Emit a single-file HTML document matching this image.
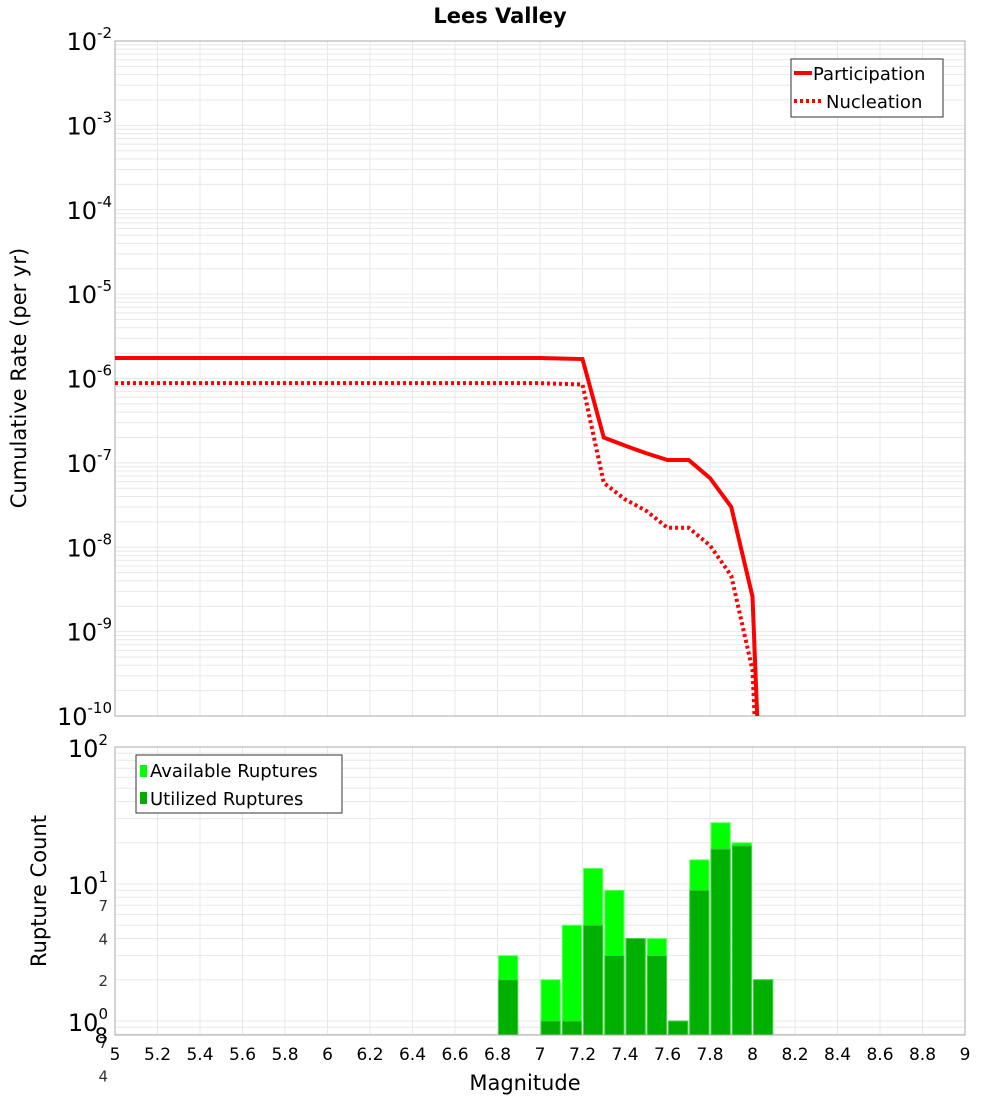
<!DOCTYPE html>
<html><head><meta charset="utf-8"><style>
body{margin:0;background:#fff;}
svg{display:block;font-family:"DejaVu Sans","Liberation Sans",sans-serif;}
</style></head><body>
<svg id="chart" width="1000" height="1100" viewBox="0 0 1000 1100" xmlns="http://www.w3.org/2000/svg">
<text x="500" y="23" text-anchor="middle" font-size="21" font-weight="bold">Lees Valley</text>
<g id="topG"></g><g id="botG"></g>
<text transform="translate(26,378) rotate(-90)" text-anchor="middle" font-size="21">Cumulative Rate (per yr)</text>
<text transform="translate(46,891) rotate(-90)" text-anchor="middle" font-size="21">Rupture Count</text>
<text x="525" y="1090" text-anchor="middle" font-size="21">Magnitude</text>
</svg>
<script>
const partMags=[5.0,7.0,7.2,7.3,7.4,7.5,7.6,7.7,7.8,7.9,8.0,8.1];
const partVals=[1.75e-6,1.75e-6,1.7e-6,2.0e-7,1.6e-7,1.3e-7,1.08e-7,1.08e-7,6.6e-8,3.0e-8,2.6e-9,1e-15];
const nuclMags=[5.0,7.0,7.2,7.3,7.4,7.5,7.6,7.7,7.8,7.9,8.0,8.1];
const nuclVals=[8.8e-7,8.8e-7,8.5e-7,5.8e-8,3.7e-8,2.7e-8,1.7e-8,1.7e-8,1.05e-8,4.6e-9,3.5e-10,1e-15];
const binStarts=[6.8,7.0,7.1,7.2,7.3,7.4,7.5,7.6,7.7,7.8,7.9,8.0];
const availCounts=[3,2,5,13,9,4,4,1,15,28,20,2];
const usedCounts=[2,1,1,5,3,4,3,1,9,18,19,2];
const xTicks=[5,5.2,5.4,5.6,5.8,6,6.2,6.4,6.6,6.8,7,7.2,7.4,7.6,7.8,8,8.2,8.4,8.6,8.8,9];
const topDecades=[-2,-3,-4,-5,-6,-7,-8,-9,-10];
const botMinorLabels=[7,4,2,70,40,20];

const NS='http://www.w3.org/2000/svg';
const L=115,R=965,T1=41,B1=716,T2=747,B2=1035;
const X=m=>L+(m-5)/4*(R-L);
const Y1=v=>T1+(-2-Math.log10(v))*(B1-T1)/8;
const Y2=v=>T2+(2-Math.log10(v))*137;
function el(tag,attrs,parent,txt){const e=document.createElementNS(NS,tag);for(const k in attrs)e.setAttribute(k,attrs[k]);if(txt!==undefined)e.textContent=txt;parent.appendChild(e);return e;}
const svgEl=document.getElementById('chart');
const topG=document.getElementById('topG'),botG=document.getElementById('botG');
const defs=el('defs',{},svgEl);
const cp=el('clipPath',{id:'c1'},defs);el('rect',{x:L,y:T1,width:R-L,height:B1-T1},cp);
const cp2=el('clipPath',{id:'c2'},defs);el('rect',{x:L,y:T2,width:R-L,height:B2-T2},cp2);

for(let d=-10;d<-2;d++){for(let k=1;k<10;k++){const y=Y1(k*Math.pow(10,d));
const g=el('line',{x1:L,x2:R,y1:y,y2:y,stroke:'#e8e8e8','stroke-width':1},topG);

}}
xTicks.forEach(m=>{const x=X(m);const g=el('line',{x1:x,x2:x,y1:T1,y2:B1,stroke:'#e8e8e8'},topG);


const g2=el('line',{x1:x,x2:x,y1:T2,y2:B2,stroke:'#e8e8e8'},botG);


const t=el('text',{x:x,y:1060,'text-anchor':'middle','font-size':17},svgEl,String(m));

});
topDecades.forEach(d=>{const y=Y1(Math.pow(10,d));
const t=el('text',{x:112,y:y+9,'text-anchor':'end','font-size':24},svgEl);


el('tspan',{},t,'10');el('tspan',{dy:-12,'font-size':15},t,String(d));});
const f1=el('rect',{x:L,y:T1,width:R-L,height:B1-T1,fill:'none',stroke:'#aaa'},topG);



function line(ms,vs,dash,name){const pts=ms.map((m,i)=>X(m)+','+Y1(vs[i])).join(' ');
const p=el('polyline',{points:pts,fill:'none',stroke:'#ff0000','stroke-width':4,'clip-path':'url(#c1)'},topG);
if(dash)p.setAttribute('stroke-dasharray','3,3');

}
line(partMags,partVals,false,'participation-line');
line(nuclMags,nuclVals,true,'nucleation-line');

const lg=el('g',{},topG);


el('rect',{x:791,y:59,width:152,height:58,fill:'#fff',stroke:'#333'},lg);
el('line',{x1:794,x2:812,y1:73,y2:73,stroke:'#f00','stroke-width':4},lg);
el('line',{x1:794,x2:823,y1:101,y2:101,stroke:'#f00','stroke-width':4,'stroke-dasharray':'3,3'},lg);
el('text',{x:813,y:80,'font-size':18},lg,'Participation');
el('text',{x:826,y:108,'font-size':18},lg,'Nucleation');

for(let d=-1;d<2;d++){for(let k=1;k<10;k++){const v=k*Math.pow(10,d);const y=Y2(v);if(y>B2||y<T2)continue;
const g=el('line',{x1:L,x2:R,y1:y,y2:y,stroke:'#e8e8e8'},botG);

}}
[2,1,0].forEach(d=>{const y=Y2(Math.pow(10,d));
const t=el('text',{x:108,y:y+10,'text-anchor':'end','font-size':24},svgEl);


el('tspan',{},t,'10');el('tspan',{dy:-12,'font-size':15},t,String(d));});
botMinorLabels.forEach(v=>{const y=Y2(v/10);
const t=el('text',{x:108,y:y+6,'text-anchor':'end','font-size':15,fill:'#333'},svgEl,String(v>=10?v/10:v));

});
const t8=el('text',{x:108,y:1043,'text-anchor':'end','font-size':21},svgEl,'8');



binStarts.forEach((m,i)=>{const x0=X(m)+1,w=X(m+0.1)-X(m)-2;
const a=el('rect',{x:x0,y:Y2(availCounts[i]),width:w,height:B2-Y2(availCounts[i]),fill:'#00ff00',stroke:'#66ff66','stroke-width':1,'clip-path':'url(#c2)'},botG);


const u=el('rect',{x:x0,y:Y2(usedCounts[i]),width:w,height:B2-Y2(usedCounts[i]),fill:'#00b000',stroke:'#40d040','stroke-width':1,'clip-path':'url(#c2)'},botG);

});
const f2=el('rect',{x:L,y:T2,width:R-L,height:B2-T2,fill:'none',stroke:'#aaa'},botG);



const lg2=el('g',{},botG);


el('rect',{x:136,y:755,width:206,height:58,fill:'#fff',stroke:'#333'},lg2);
el('rect',{x:140,y:765,width:7,height:12,fill:'#00ff00'},lg2);
el('rect',{x:140,y:792,width:7,height:12,fill:'#00b000'},lg2);
el('text',{x:150,y:777,'font-size':18},lg2,'Available Ruptures');
el('text',{x:150,y:805,'font-size':18},lg2,'Utilized Ruptures');
</script>
</body></html>
